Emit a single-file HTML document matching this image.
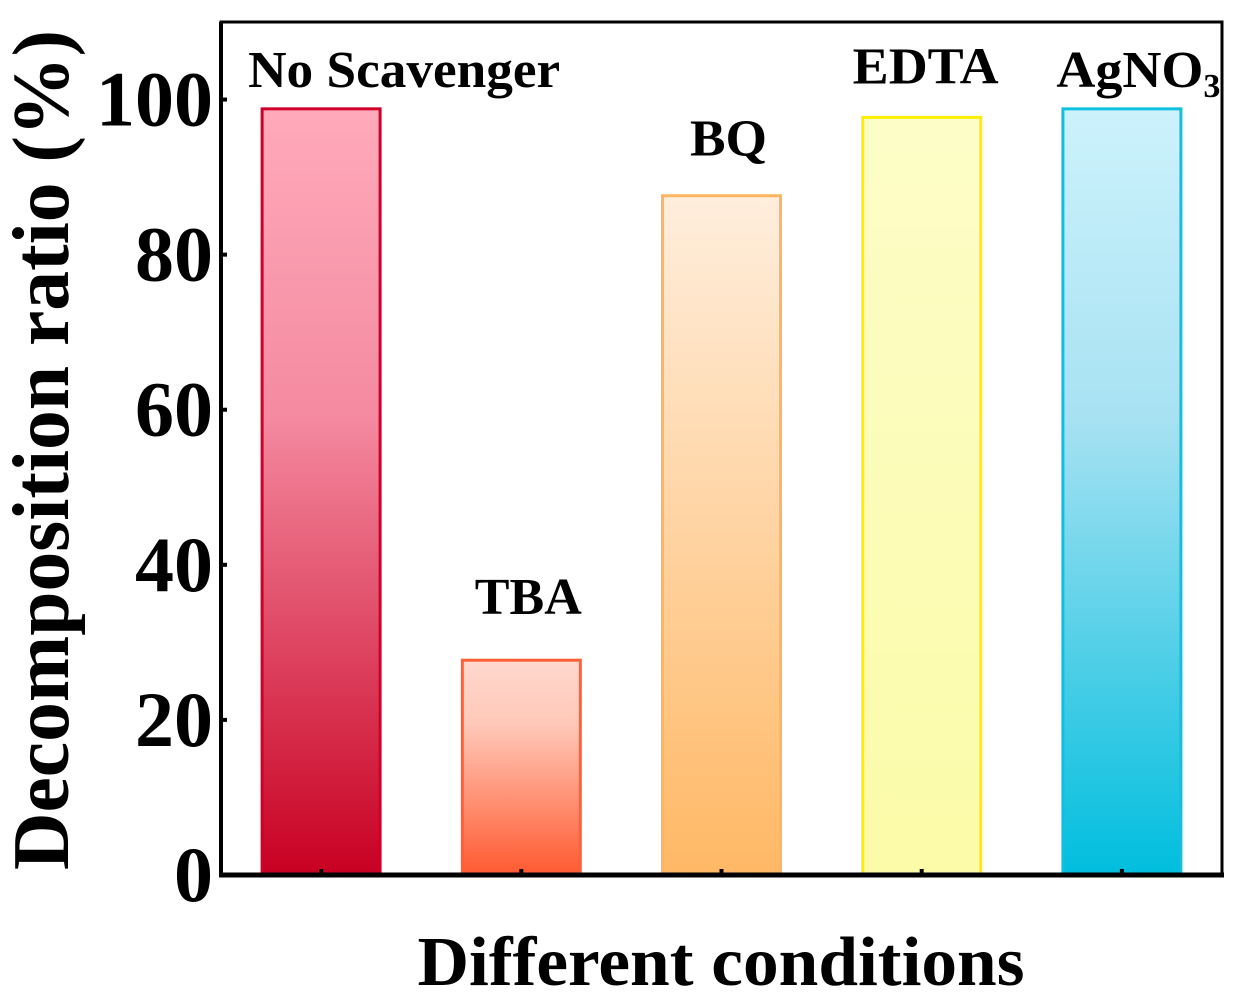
<!DOCTYPE html>
<html><head><meta charset="utf-8"><style>
html,body{margin:0;padding:0;background:#fff;}
svg{display:block;font-family:"Liberation Serif",serif;font-weight:bold;}
</style></head><body>
<svg id="chart" width="1249" height="1006" viewBox="0 0 1249 1006">
<defs>
<linearGradient id="g0" x1="0" y1="0" x2="0" y2="1"><stop offset="0" stop-color="#ffaabb"/><stop offset="0.4" stop-color="#f48aa0"/><stop offset="1" stop-color="#c80022"/></linearGradient>
<linearGradient id="g1" x1="0" y1="0" x2="0" y2="1"><stop offset="0" stop-color="#ffd8ce"/><stop offset="0.3" stop-color="#ffc8b8"/><stop offset="1" stop-color="#ff5a30"/></linearGradient>
<linearGradient id="g2" x1="0" y1="0" x2="0" y2="1"><stop offset="0" stop-color="#ffeedd"/><stop offset="1" stop-color="#ffb865"/></linearGradient>
<linearGradient id="g3" x1="0" y1="0" x2="0" y2="1"><stop offset="0" stop-color="#fdfdc8"/><stop offset="1" stop-color="#fbfba8"/></linearGradient>
<linearGradient id="g4" x1="0" y1="0" x2="0" y2="1"><stop offset="0" stop-color="#ccf2fc"/><stop offset="0.4" stop-color="#a8e2f2"/><stop offset="1" stop-color="#00bede"/></linearGradient>
</defs>
<g id="bars"></g>
<g id="axes"></g>
<text x="68" y="450" transform="rotate(-90 68 450)" text-anchor="middle" font-size="80" textLength="840" lengthAdjust="spacingAndGlyphs">Decomposition ratio (%)</text>
<text x="721" y="985" text-anchor="middle" font-size="70" textLength="607" lengthAdjust="spacingAndGlyphs">Different conditions</text>
</svg>
<script>
const categories = ["No Scavenger","TBA","BQ","EDTA","AgNO3"];
const values = [98.8, 27.7, 87.6, 97.7, 98.8];
const yTicks = [0,20,40,60,80,100];
const fills = ["url(#g0)","url(#g1)","url(#g2)","url(#g3)","url(#g4)"];
const strokes = ["#d0002a","#ff6035","#ffb560","#ffee00","#10c0e0"];
// label layout (style, not data): x offset from bar center, gap above bar, text width
const labelDx = [83, 7, 7, 4, 8];
const labelGap = [22, 46, 40, 34, 22];
const labelW = [312, 107, 77, 146, 147];
const L=221,R=1222,T=22,B=875,yMax=110;
const y=v=>B-(v/yMax)*(B-T);
const x=i=>L+(i+0.5)*(R-L)/categories.length;
const NS="http://www.w3.org/2000/svg";
const bars=document.getElementById('bars'),axes=document.getElementById('axes');
function mk(tag,a,p){const e=document.createElementNS(NS,tag);for(const k in a)e.setAttribute(k,a[k]);p.appendChild(e);return e;}
values.forEach((v,i)=>{
  const r=mk('rect',{x:x(i)-59,y:y(v),width:118,height:B-y(v),fill:fills[i],stroke:strokes[i],'stroke-width':3},bars);
  
  
  const cx=x(i)+labelDx[i], by=y(v)-labelGap[i];
  const t=mk('text',{x:cx-labelW[i]/2,y:by,'font-size':52},bars);
  
  
  if(categories[i]==="AgNO3"){
    const m=mk('tspan',{textLength:labelW[i],lengthAdjust:'spacingAndGlyphs'},t);m.textContent="AgNO";
    const s=mk('tspan',{'font-size':34,dy:10},t);s.textContent="3";
  } else {
    t.setAttribute('textLength',labelW[i]);t.setAttribute('lengthAdjust','spacingAndGlyphs');
    t.textContent=categories[i];
  }
  const tk=mk('line',{x1:x(i),x2:x(i),y1:B,y2:B-6,stroke:'#000','stroke-width':4},axes);
  
  
});
const fr=mk('rect',{x:L,y:T,width:R-L,height:B-T,fill:'none',stroke:'#000','stroke-width':3},axes);


const ya=mk('line',{x1:L,x2:L,y1:T,y2:B+2,stroke:'#000','stroke-width':4},axes);


const xa=mk('line',{x1:L-2,x2:R+2,y1:B,y2:B,stroke:'#000','stroke-width':5},axes);


yTicks.forEach(v=>{
  const tk=mk('line',{x1:L,x2:L+6,y1:y(v),y2:y(v),stroke:'#000','stroke-width':4},axes);
  
  
  const t=mk('text',{x:L-8,y:y(v)+26,'text-anchor':'end','font-size':78},axes);
  
  
  t.textContent=v;
});
</script>
</body></html>
